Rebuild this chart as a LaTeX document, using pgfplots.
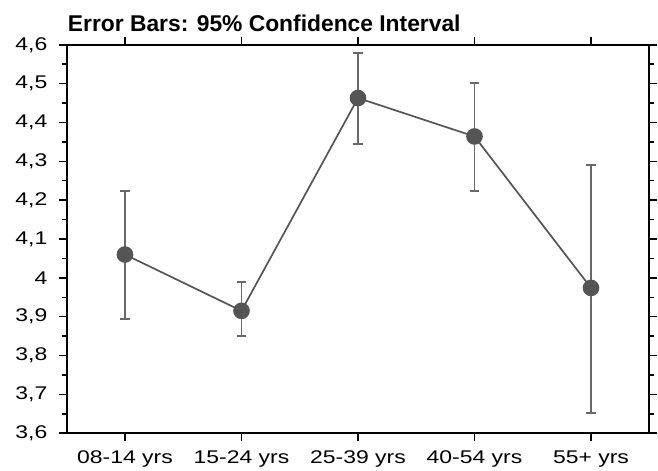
\documentclass[border=0pt]{standalone}
\usepackage{pgfplots}
\pgfplotsset{compat=1.18}
\usepackage{pgfplotstable}
\usepackage{fontspec}
\setmainfont{Liberation Sans}
\newfontfamily\tickfont[FakeStretch=1.25]{Liberation Sans}
\usetikzlibrary{calc}
\definecolor{linegray}{HTML}{555555}
\definecolor{bargray}{HTML}{686868}

% mean score per age group with the bounds of its 95% confidence interval
\pgfplotstableread{
x  mean   lo     hi
0  4.060  3.895  4.224
1  3.915  3.850  3.990
2  4.463  4.344  4.579
3  4.364  4.224  4.502
4  3.974  3.651  4.291
}\scores

\begin{document}
\begin{tikzpicture}
\begin{axis}[
  name=ax,
  scale only axis,
  width=585bp, height=390bp,
  xmin=-0.5, xmax=4.5, ymin=3.6, ymax=4.6,
  xtick={0,1,2,3,4},
  xticklabels={08-14 yrs, 15-24 yrs, 25-39 yrs, 40-54 yrs, 55+ yrs},
  ytick={3.6,3.7,3.8,3.9,4.0,4.1,4.2,4.3,4.4,4.5,4.6},
  minor y tick num=1,
  tick align=outside,
  major tick length=8bp, minor tick length=5bp,
  tick style={black, line width=1.5bp},
  axis line style={black, line width=2bp},
  ticklabel style={font=\tickfont\fontsize{18.5}{18.5}\selectfont},
  /pgf/number format/assume math mode=true,
  /pgf/number format/use comma,
  /pgf/number format/fixed,
  /pgf/number format/precision=1,
  yticklabel style={xshift=-8bp},
  xticklabel style={yshift=-6bp},
]
% confidence intervals
\addplot[draw=none, mark=none,
  error bars/.cd, y dir=both, y explicit,
  error bar style={bargray, line width=1.9bp},
  error mark options={bargray, rotate=90, mark size=5bp, line width=1.9bp}]
  table[x=x, y=mean,
        y error plus expr=\thisrow{hi}-\thisrow{mean},
        y error minus expr=\thisrow{mean}-\thisrow{lo}] {\scores};
% group means
\addplot[linegray, line width=1.7bp, mark=*, mark size=7.5bp,
  mark options={fill=linegray, draw=linegray}]
  table[x=x, y=mean] {\scores};
\end{axis}
\node[anchor=base west, font=\bfseries\fontsize{23}{23}\selectfont, inner sep=0pt]
  at ($(ax.north west)+(1bp,13bp)$) {Error Bars: 95\% Confidence Interval};
\path[use as bounding box] ($(ax.south west)+(-67bp,-36bp)$) rectangle ($(ax.north east)+(6bp,45bp)$);
\end{tikzpicture}
\end{document}
